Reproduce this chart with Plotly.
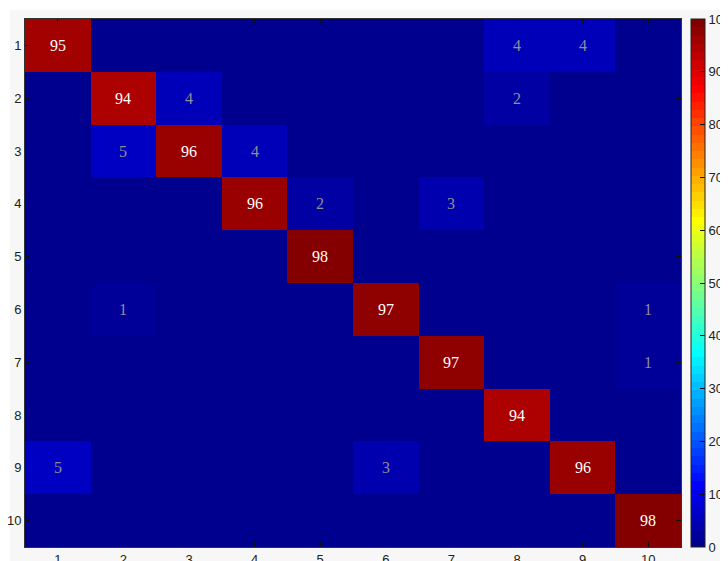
import plotly.graph_objects as go

labels = [1, 2, 3, 4, 5, 6, 7, 8, 9, 10]
matrix = [
    [95, 0, 0, 0, 0, 0, 0, 4, 4, 0],
    [0, 94, 4, 0, 0, 0, 0, 2, 0, 0],
    [0, 5, 96, 4, 0, 0, 0, 0, 0, 0],
    [0, 0, 0, 96, 2, 0, 3, 0, 0, 0],
    [0, 0, 0, 0, 98, 0, 0, 0, 0, 0],
    [0, 1, 0, 0, 0, 97, 0, 0, 0, 1],
    [0, 0, 0, 0, 0, 0, 97, 0, 0, 1],
    [0, 0, 0, 0, 0, 0, 0, 94, 0, 0],
    [5, 0, 0, 0, 0, 3, 0, 0, 96, 0],
    [0, 0, 0, 0, 0, 0, 0, 0, 0, 98],
]
cbar_ticks = [0, 10, 20, 30, 40, 50, 60, 70, 80, 90, 100]


def jet(x):
    c = lambda v: max(0.0, min(1.0, v))
    r = c(1.5 - abs(4 * x - 3))
    g = c(1.5 - abs(4 * x - 2))
    b = c(1.5 - abs(4 * x - 1))
    return f"rgb({round(r*255)},{round(g*255)},{round(b*255)})"


# smooth jet for cells (shifted by one band like MATLAB's jet(64))
smooth = [[i / 255, jet(min(1.0, i / 255 + 1 / 64))] for i in range(256)]
# 64-step banded jet for colorbar
banded = []
for i in range(64):
    col = jet((i + 1) / 64)
    banded.append([i / 64, col])
    banded.append([(i + 1) / 64, col])

W, H = 728, 561
L, R, T, B = 17, 55, 11, 22
pw, ph = W - L - R, H - T - B

fig = go.Figure()
fig.add_trace(go.Heatmap(
    z=matrix, x=labels, y=labels, zmin=0, zmax=100,
    colorscale=smooth, showscale=False, hoverinfo="skip",
))
fig.add_trace(go.Heatmap(
    z=matrix, x=labels, y=labels, zmin=0, zmax=100,
    colorscale=banded, opacity=0, hoverinfo="skip",
    colorbar=dict(
        x=1 + 10 / pw, xanchor="left", xpad=0, ypad=0,
        y=0, yanchor="bottom", len=1, lenmode="fraction",
        thickness=14, outlinecolor="#222", outlinewidth=1,
        tickvals=cbar_ticks, ticks="inside", ticklen=5,
        tickcolor="#111", tickfont=dict(family="Liberation Sans", size=13, color="#222"),
    ),
))

for i, row in enumerate(matrix):
    for j, v in enumerate(row):
        if v:
            fig.add_annotation(
                x=labels[j], y=labels[i], text=str(v), showarrow=False,
                font=dict(family="Liberation Serif", size=16,
                          color="white" if v > 50 else "#8f8f9a"),
            )

axis_common = dict(
    showgrid=False, zeroline=False, ticks="inside", ticklen=5,
    tickcolor="#111", showline=True, linecolor="#333", linewidth=1,
    mirror="ticks", tickfont=dict(family="Liberation Sans", size=13, color="#222"),
    tickvals=labels, automargin=False,
)
fig.update_xaxes(**axis_common, range=[0.5, 10.5])
fig.update_yaxes(**axis_common, range=[10.5, 0.5])

fig.add_shape(type="rect", xref="paper", yref="paper",
              x0=-L / pw, x1=1 + R / pw, y0=-B / ph, y1=1 + T / ph,
              fillcolor="white", line_width=0, layer="below")
fig.add_shape(type="rect", xref="paper", yref="paper",
              x0=(2 - L) / pw, x1=1 + R / pw, y0=-B / ph, y1=1 + (T - 2) / ph,
              fillcolor="#f7f7f7", line_width=0, layer="below")

fig.update_layout(
    width=W, height=H,
    margin=dict(l=L, r=R, t=T, b=B, autoexpand=False),
    paper_bgcolor="white", plot_bgcolor="white",
    showlegend=False,
)
fig.write_html("out.html")
